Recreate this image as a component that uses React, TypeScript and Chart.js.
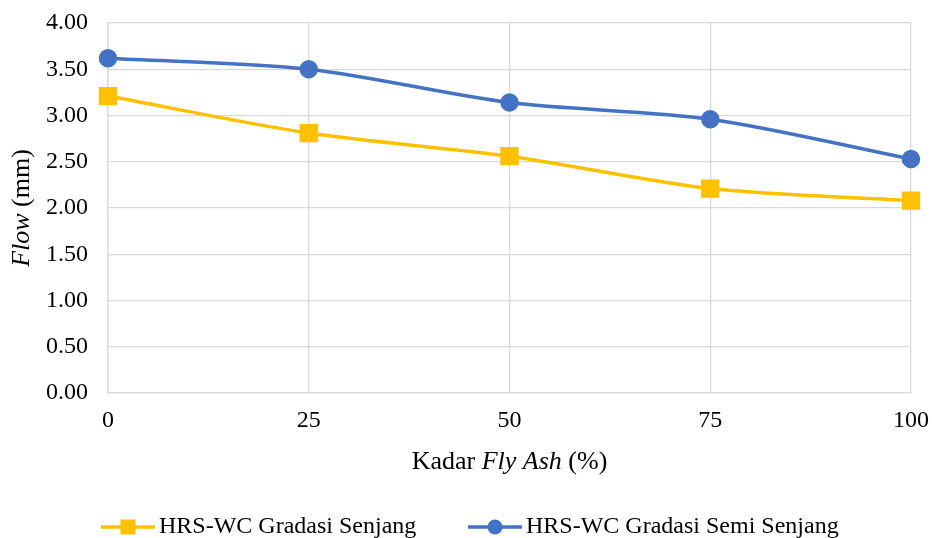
import React, { useEffect, useRef } from "react";
import { Chart, registerables } from "chart.js";
Chart.register(...registerables);

const xValues = [0, 25, 50, 75, 100];
const seriesSenjang = [3.21, 2.81, 2.56, 2.21, 2.08];
const seriesSemi = [3.62, 3.50, 3.14, 2.96, 2.53];
const seriesNames = ["HRS-WC Gradasi Senjang", "HRS-WC Gradasi Semi Senjang"];
const colors = ["#FFC000", "#4472C4"];

const FONT = "'Liberation Serif', 'Times New Roman', serif";
const FS = 24;
const TFS = 26;

function drawMixed(ctx: CanvasRenderingContext2D, parts: [string, boolean][], x: number, y: number, size: number) {
  let total = 0;
  const widths = parts.map(([t, it]) => {
    ctx.font = `${it ? "italic " : ""}${size}px ${FONT}`;
    const w = ctx.measureText(t).width;
    total += w;
    return w;
  });
  let cx = x - total / 2;
  parts.forEach(([t, it], i) => {
    ctx.font = `${it ? "italic " : ""}${size}px ${FONT}`;
    ctx.fillText(t, cx, y);
    cx += widths[i];
  });
}

const titlesPlugin = {
  id: "titlesPlugin",
  afterDraw(chart: any) {
    const ctx = chart.ctx as CanvasRenderingContext2D;
    const area = chart.chartArea;
    ctx.save();
    ctx.fillStyle = "#000";
    ctx.textBaseline = "middle";
    ctx.textAlign = "left";
    drawMixed(ctx, [["Kadar ", false], ["Fly Ash", true], [" (%)", false]], (area.left + area.right) / 2, 462, TFS);
    ctx.save();
    ctx.translate(22, (area.top + area.bottom) / 2);
    ctx.rotate(-Math.PI / 2);
    drawMixed(ctx, [["Flow", true], [" (mm)", false]], 0, 0, TFS);
    ctx.restore();
    const ly = 527;
    const items = [
      { x: 101, color: colors[0], style: "rect", label: seriesNames[0] },
      { x: 468, color: colors[1], style: "circle", label: seriesNames[1] },
    ];
    items.forEach((it) => {
      ctx.strokeStyle = it.color;
      ctx.lineWidth = 3.5;
      ctx.beginPath();
      ctx.moveTo(it.x, ly);
      ctx.lineTo(it.x + 54, ly);
      ctx.stroke();
      ctx.fillStyle = it.color;
      const mx = it.x + 27;
      if (it.style === "rect") {
        ctx.fillRect(mx - 7.5, ly - 7.5, 15, 15);
      } else {
        ctx.beginPath();
        ctx.arc(mx, ly, 7.5, 0, Math.PI * 2);
        ctx.fill();
      }
      ctx.fillStyle = "#000";
      ctx.font = `${FS}px ${FONT}`;
      ctx.textAlign = "left";
      ctx.fillText(it.label, it.x + 58, ly);
    });
    ctx.restore();
  },
};

export default function App() {
  const ref = useRef<HTMLCanvasElement | null>(null);
  useEffect(() => {
    document.body.style.margin = "0";
    const canvas = ref.current!;
    const chart = new Chart(canvas, {
      type: "line",
      data: {
        datasets: [
          {
            label: seriesNames[0],
            data: xValues.map((x, i) => ({ x, y: seriesSenjang[i] })),
            borderColor: colors[0],
            backgroundColor: colors[0],
            borderWidth: 3.5,
            pointStyle: "rect",
            pointRadius: 10.5,
            pointHoverRadius: 10.5,
            tension: 0.3,
            clip: false,
          },
          {
            label: seriesNames[1],
            data: xValues.map((x, i) => ({ x, y: seriesSemi[i] })),
            borderColor: colors[1],
            backgroundColor: colors[1],
            borderWidth: 3.5,
            pointStyle: "circle",
            pointRadius: 7.5,
            pointHoverRadius: 7.5,
            tension: 0.3,
            clip: false,
          },
        ],
      },
      options: {
        responsive: false,
        animation: false,
        layout: { padding: { top: 23, right: 21, left: 0, bottom: 0 } },
        plugins: { legend: { display: false }, tooltip: { enabled: false } },
        scales: {
          x: {
            type: "linear",
            min: 0,
            max: 100,
            afterBuildTicks: (s: any) => {
              s.ticks = xValues.map((v) => ({ value: v }));
            },
            afterFit: (s: any) => {
              s.height = 145;
              s.paddingLeft = 0;
              s.paddingRight = 0;
            },
            ticks: { color: "#000", font: { family: FONT, size: FS }, padding: 13, maxRotation: 0 },
            grid: { color: "#d9d9d9", lineWidth: 1.3, drawTicks: false },
            border: { color: "#d9d9d9", width: 1.3 },
          },
          y: {
            min: 0,
            max: 4,
            afterFit: (s: any) => {
              s.width = 108;
              s.paddingTop = 0;
              s.paddingBottom = 0;
            },
            ticks: {
              stepSize: 0.5,
              color: "#000",
              font: { family: FONT, size: FS },
              padding: 20,
              callback: (v: any) => Number(v).toFixed(2),
            },
            grid: { color: "#d9d9d9", lineWidth: 1.3, drawTicks: false },
            border: { color: "#d9d9d9", width: 1.3 },
          },
        },
      },
      plugins: [titlesPlugin],
    } as any);
    return () => chart.destroy();
  }, []);
  return <canvas ref={ref} width={932} height={538} style={{ display: "block" }} />;
}
